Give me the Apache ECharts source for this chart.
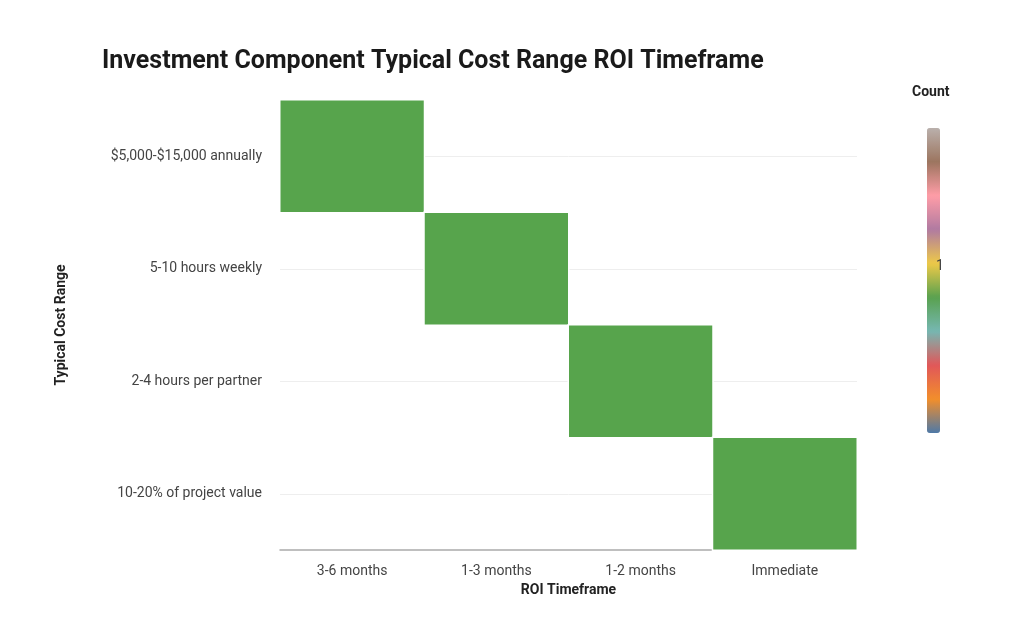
<!DOCTYPE html><html><head><meta charset="utf-8"><script src="https://cdn.jsdelivr.net/npm/echarts@6/dist/echarts.min.js"></script></head><body style="margin:0"><div id="c" style="width:1024px;height:637px"></div><script>
const xCats=['3-6 months','1-3 months','1-2 months','Immediate'];
const yCats=['10-20% of project value','2-4 hours per partner','5-10 hours weekly','$5,000-$15,000 annually'];
const cells=[['3-6 months','$5,000-$15,000 annually',1],['1-3 months','5-10 hours weekly',1],['1-2 months','2-4 hours per partner',1],['Immediate','10-20% of project value',1]];
const palette=['#4e79a7','#f28e2b','#e15759','#76b7b2','#59a14f','#edc948','#b07aa1','#ff9da7','#9c755f','#bab0ac'];
const ch=echarts.init(document.getElementById('c'));
const F='Roboto';
ch.setOption({
title:{text:'Investment Component Typical Cost Range ROI Timeframe',left:97,top:44,textStyle:{fontFamily:F,fontSize:25,fontWeight:'bold',color:'#1a1a1a'}},
grid:{left:280,right:167,top:100,bottom:87},
xAxis:{type:'category',data:xCats,name:'ROI Timeframe',nameLocation:'middle',nameGap:33,nameTextStyle:{fontFamily:F,fontSize:14,fontWeight:'bold',color:'#222'},axisLine:{lineStyle:{color:'#aaa',width:1.5}},axisTick:{show:false},axisLabel:{fontFamily:F,fontSize:14,color:'#444',margin:14},splitLine:{show:false}},
yAxis:{type:'category',data:yCats,name:'Typical Cost Range',nameLocation:'middle',nameGap:212,nameTextStyle:{fontFamily:F,fontSize:14,fontWeight:'bold',color:'#222'},axisLine:{show:false},axisTick:{show:false},axisLabel:{fontFamily:F,fontSize:14,color:'#444',margin:18},splitLine:{show:false}},
visualMap:{type:'continuous',seriesIndex:1,min:0,max:2,calculable:false,left:912,top:113,itemWidth:13,itemHeight:305,text:['',''],inRange:{color:palette}},
graphic:[{type:'text',left:912,top:85,style:{text:'Count',fontFamily:F,fontSize:14,fontWeight:'bold',fill:'#222'}},
{type:'rect',shape:{x:912,y:265,width:13,height:2},style:{fill:'#fff'},z:100},
{type:'text',left:936,top:259,style:{text:'1',fontFamily:F,fontSize:14,fill:'#444'},z:100}],
series:[{type:'heatmap',data:cells,itemStyle:{color:'#57a44c',borderColor:'#fff',borderWidth:1.5},z:3,
markLine:{silent:true,symbol:'none',label:{show:false},lineStyle:{color:'#eee',type:'solid',width:1},data:yCats.map(c=>({yAxis:c})),z:1}},
{type:'heatmap',data:[]}]
});
</script></body></html>
